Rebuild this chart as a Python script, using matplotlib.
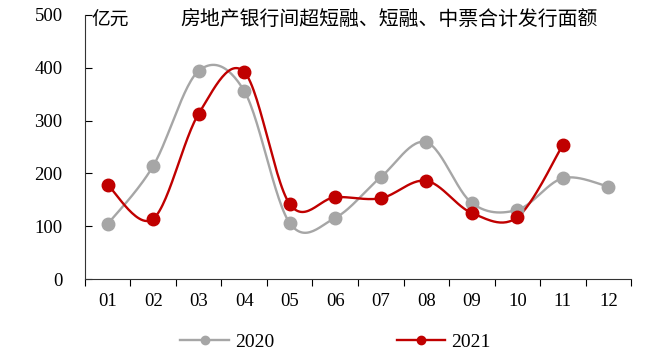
import numpy as np
import matplotlib.pyplot as plt

plt.rcParams['font.family'] = ['Liberation Serif', 'Noto Sans CJK SC']

months = ['01', '02', '03', '04', '05', '06', '07', '08', '09', '10', '11', '12']
v2020 = [104, 214, 394, 356, 106, 116, 193, 259, 144, 131, 191, 175]
v2021 = [178, 114, 313, 392, 142, 155, 153, 186, 125, 117, 254]

GRAY = '#A6A6A6'
RED = '#C00000'


def smooth(y, n=30):
    # Excel-style smoothed line (Catmull-Rom through the points)
    y = np.asarray(y, dtype=float)
    x = np.arange(len(y), dtype=float)
    px = np.concatenate([[x[0]], x, [x[-1]]])
    py = np.concatenate([[y[0]], y, [y[-1]]])
    xs, ys = [], []
    t = np.linspace(0, 1, n)
    for i in range(1, len(px) - 2):
        x0, x1, x2, x3 = px[i - 1], px[i], px[i + 1], px[i + 2]
        y0, y1, y2, y3 = py[i - 1], py[i], py[i + 1], py[i + 2]
        c1x, c1y = x1 + (x2 - x0) / 6, y1 + (y2 - y0) / 6
        c2x, c2y = x2 - (x3 - x1) / 6, y2 - (y3 - y1) / 6
        bx = (1 - t) ** 3 * x1 + 3 * (1 - t) ** 2 * t * c1x + 3 * (1 - t) * t ** 2 * c2x + t ** 3 * x2
        by = (1 - t) ** 3 * y1 + 3 * (1 - t) ** 2 * t * c1y + 3 * (1 - t) * t ** 2 * c2y + t ** 3 * y2
        xs.append(bx)
        ys.append(by)
    return np.concatenate(xs), np.concatenate(ys)


fig = plt.figure(figsize=(6.63, 3.62), dpi=100)
ax = fig.add_axes([0.128, 0.229, 0.824, 0.730])

for vals, col, lab in [(v2020, GRAY, '2020'), (v2021, RED, '2021')]:
    sx, sy = smooth(vals)
    ax.plot(sx, sy, color=col, lw=1.7, zorder=2)
    ax.plot(np.arange(len(vals)), vals, 'o', color=col, ms=9, zorder=3)
    ax.plot([], [], '-o', color=col, lw=1.7, ms=6, label=lab)

ax.set_xlim(-0.5, 11.5)
ax.set_ylim(0, 500)
ax.set_yticks(range(0, 501, 100))
ax.set_xticks(range(12))
ax.set_xticklabels(months)
ax.set_xticks(np.arange(-0.5, 12, 1), minor=True)
ax.tick_params(axis='x', which='major', length=0, pad=10, labelsize=13.5)
ax.tick_params(axis='x', which='minor', length=5, direction='out', width=0.8)
ax.tick_params(axis='y', length=5, direction='in', width=0.8, pad=16, labelsize=13.5)
for s in ['top', 'right']:
    ax.spines[s].set_visible(False)
for s in ['left', 'bottom']:
    ax.spines[s].set_linewidth(0.8)
    ax.spines[s].set_color('#333333')

ax.text(0.012, 0.981, '亿元', transform=ax.transAxes, ha='left', va='center',
        fontsize=13.5, family=['Noto Sans CJK SC'])
ax.text(0.557, 0.981, '房地产银行间超短融、短融、中票合计发行面额', transform=ax.transAxes,
        ha='center', va='center', fontsize=14.3, family=['Noto Sans CJK SC'])

fig.legend(loc='center', bbox_to_anchor=(0.506, 0.055), ncol=2, frameon=False,
           fontsize=14, columnspacing=6.3, handlelength=2.5, handletextpad=0.3)

fig.savefig('out.png', dpi=100)
